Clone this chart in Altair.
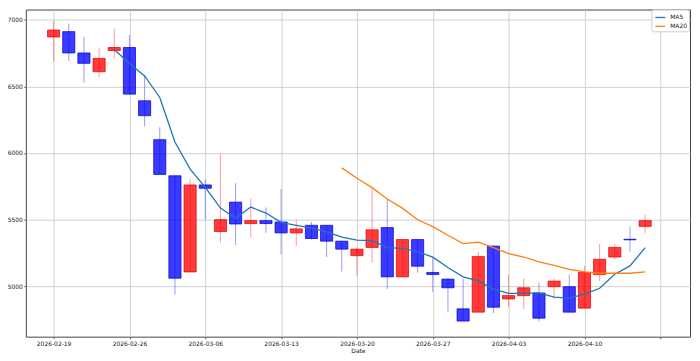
import json
import altair as alt
import pandas as pd

# ---- data ----
dates = ['2026-02-19', '2026-02-20', '2026-02-23', '2026-02-24', '2026-02-25',
         '2026-02-26', '2026-02-27', '2026-03-03', '2026-03-04', '2026-03-05',
         '2026-03-06', '2026-03-09', '2026-03-10', '2026-03-11', '2026-03-12',
         '2026-03-13', '2026-03-16', '2026-03-17', '2026-03-18', '2026-03-19',
         '2026-03-20', '2026-03-23', '2026-03-24', '2026-03-25', '2026-03-26',
         '2026-03-27', '2026-03-30', '2026-03-31', '2026-04-01', '2026-04-02',
         '2026-04-03', '2026-04-06', '2026-04-07', '2026-04-08', '2026-04-09',
         '2026-04-10', '2026-04-13', '2026-04-14', '2026-04-15', '2026-04-16']

opens = [6871, 6911, 6751, 6610, 6769, 6792, 6392, 6100, 5829, 5107,
         5760, 5410, 5631, 5470, 5492, 5482, 5400, 5457, 5457, 5338,
         5229, 5291, 5440, 5070, 5350, 5103, 5053, 4830, 4805, 5301,
         4904, 4929, 4949, 4996, 4996, 4835, 5088, 5219, 5352, 5449]
highs = [6993, 6972, 6873, 6792, 6935, 6885, 6586, 6193, 5829, 5802,
         5802, 5996, 5775, 5658, 5591, 5730, 5499, 5482, 5457, 5338,
         5290, 5740, 5655, 5350, 5350, 5214, 5060, 5053, 5259, 5301,
         5083, 5058, 5028, 5058, 5088, 5152, 5318, 5318, 5449, 5536]
lows = [6690, 6690, 6528, 6571, 6710, 6440, 6199, 5835, 4936, 5105,
        5499, 5330, 5308, 5368, 5400, 5239, 5301, 5350, 5219, 5110,
        5077, 5177, 4978, 5070, 5100, 4958, 4810, 4738, 4805, 4798,
        4842, 4830, 4735, 4904, 4805, 4835, 5040, 5202, 5259, 5400]
closes = [6923, 6751, 6673, 6710, 6792, 6442, 6280, 5839, 5060, 5760,
          5735, 5499, 5467, 5492, 5470, 5400, 5430, 5358, 5338, 5278,
          5278, 5423, 5070, 5350, 5150, 5088, 4988, 4738, 5222, 4842,
          4929, 4988, 4760, 5038, 4805, 5103, 5202, 5291, 5348, 5492]

ma5_start = 4
ma5_values = [6777, 6672, 6578, 6417, 6082, 5879, 5742, 5586, 5510, 5594,
              5549, 5479, 5457, 5435, 5408, 5368, 5345, 5343, 5289, 5284,
              5259, 5218, 5140, 5070, 5040, 4978, 4946, 4946, 4949, 4917,
              4911, 4941, 4984, 5090, 5152, 5289]
ma20_start = 19
ma20_values = [5888, 5810, 5740, 5655, 5586, 5499, 5447, 5382, 5320, 5330,
               5289, 5244, 5219, 5182, 5157, 5127, 5107, 5097, 5097, 5097,
               5107]

tick_positions = [0, 5, 10, 15, 20, 25, 30, 35, 40]
tick_labels = ['2026-02-19', '2026-02-26', '2026-03-06', '2026-03-13',
               '2026-03-20', '2026-03-27', '2026-04-03', '2026-04-10', '']
y_ticks = [5000, 5500, 6000, 6500, 7000]

series_names = ['MA5', 'MA20']
series_colors = ['#1f77b4', '#ff7f0e']

# ---- tables ----
candles = pd.DataFrame({
    'i': list(range(len(dates))), 'date': dates,
    'open': opens, 'high': highs, 'low': lows, 'close': closes,
})
ma_rows = ([{'i': ma5_start + k, 'value': v, 'series': 'MA5'} for k, v in enumerate(ma5_values)] +
           [{'i': ma20_start + k, 'value': v, 'series': 'MA20'} for k, v in enumerate(ma20_values)])
ma = pd.DataFrame(ma_rows)

FONT = 'DejaVu Sans'
xscale = alt.Scale(domain=[-1.83, 41.96], nice=False, zero=False)
yscale = alt.Scale(domain=[4621, 7077], nice=False, zero=False)

label_expr = json.dumps(tick_labels) + '[round(datum.value / 5)]'
xaxis = alt.Axis(values=tick_positions, labelExpr=label_expr, title='Date',
                 grid=True, gridColor='#cccccc', gridWidth=0.9, domain=False,
                 tickColor='#333333', tickSize=2, tickWidth=0.8, labelPadding=2,
                 labelFontSize=6, labelColor='#222222', labelFont=FONT,
                 titleFontSize=6, titleFontWeight='normal', titleColor='#222222',
                 titleFont=FONT, titlePadding=1, labelOverlap=False, labelFlush=False)
yaxis = alt.Axis(values=y_ticks, title=None, grid=True, gridColor='#cccccc',
                 gridWidth=0.9, domain=False, tickColor='#333333', tickSize=2,
                 tickWidth=0.8, labelPadding=1.5, labelFontSize=6, labelColor='#222222',
                 labelFont=FONT, format='d', labelFlush=False)

up = 'datum.close >= datum.open'

wicks = alt.Chart(candles).mark_rule(strokeWidth=1, opacity=0.4).encode(
    x=alt.X('i:Q', scale=xscale, axis=xaxis),
    y=alt.Y('low:Q', scale=yscale, axis=yaxis),
    y2='high:Q',
    color=alt.condition(up, alt.value('#ff0000'), alt.value('#0000ff')),
)

bodies = alt.Chart(candles).transform_calculate(
    x0='datum.i - 0.4', x1='datum.i + 0.4'
).mark_rect(fillOpacity=0.77, strokeWidth=0.8, strokeOpacity=0.9).encode(
    x=alt.X('x0:Q', scale=xscale, axis=xaxis),
    x2='x1:Q',
    y=alt.Y('open:Q', scale=yscale, axis=yaxis),
    y2='close:Q',
    fill=alt.condition(up, alt.value('#ff0000'), alt.value('#0000ff')),
    stroke=alt.condition(up, alt.value('#e00000'), alt.value('#0000d0')),
)

lines = alt.Chart(ma).mark_line(strokeWidth=1.3).encode(
    x=alt.X('i:Q', scale=xscale, axis=xaxis),
    y=alt.Y('value:Q', scale=yscale, axis=yaxis),
    color=alt.Color('series:N', sort=series_names,
                    scale=alt.Scale(domain=series_names, range=series_colors),
                    legend=alt.Legend(title=None, orient='none', legendX=631, legendY=0,
                                      fillColor='white', strokeColor='#cccccc',
                                      cornerRadius=2, padding=2, symbolType='stroke',
                                      symbolSize=100, symbolStrokeWidth=1.3,
                                      labelFontSize=6, labelFont=FONT, labelColor='#222222',
                                      rowPadding=-2, labelOffset=4, symbolOffset=1)),
)

chart = alt.layer(wicks, bodies, lines).properties(
    width=670, height=330,
    autosize=alt.AutoSizeParams(type='none'),
    padding={'left': 18, 'top': 0, 'right': 2, 'bottom': 22},
    background='white',
).configure_view(stroke='#444444', strokeWidth=1)

chart.save('out.html', embed_options={'renderer': 'svg', 'actions': False})
